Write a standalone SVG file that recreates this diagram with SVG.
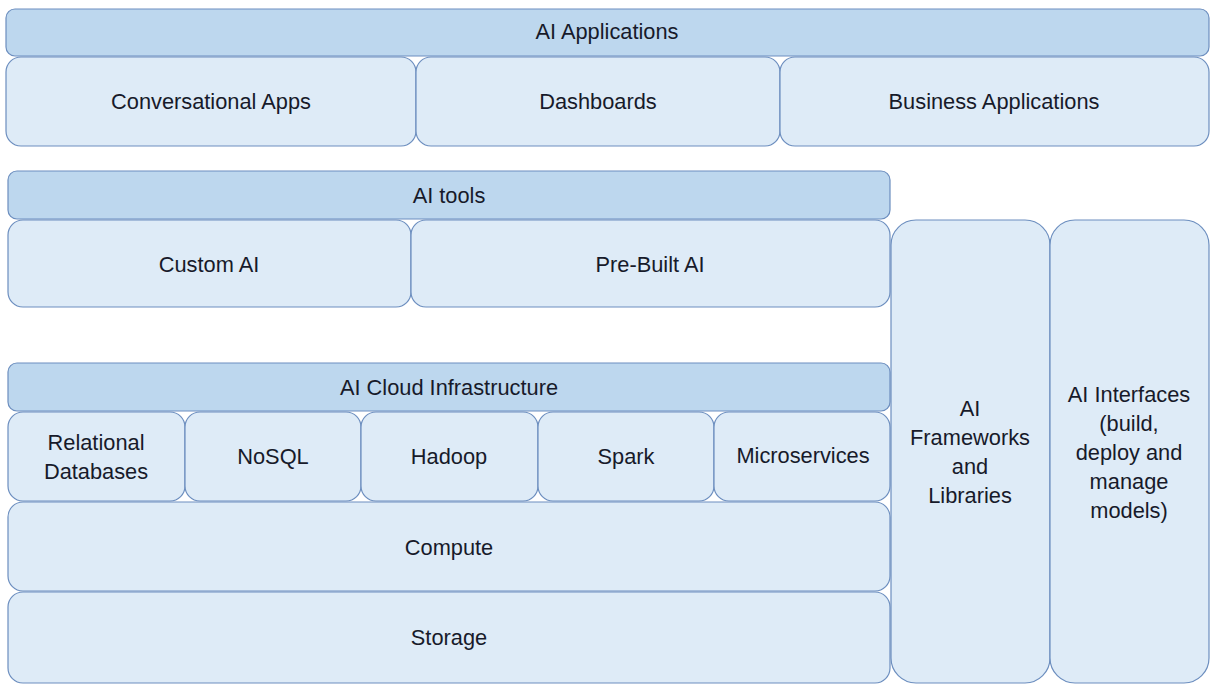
<svg xmlns="http://www.w3.org/2000/svg" width="1217" height="691" viewBox="0 0 1217 691">
<style>
.h{fill:#bdd7ee;stroke:#6c8ebf;stroke-width:1.2}
.b{fill:#deebf7;stroke:#6c8ebf;stroke-width:1.2}
text{font-family:"Liberation Sans",Arial,sans-serif;font-size:21.8px;fill:#171a2a;text-anchor:middle;dominant-baseline:central}
</style>
<rect width="1217" height="691" fill="#ffffff"/>
<g id="ai-applications"><rect class="h" x="6" y="9" width="1203" height="47" rx="9"/><text x="607" y="31">AI Applications</text></g>
<g id="conversational-apps"><rect class="b" x="6" y="57" width="410" height="89" rx="15"/><text x="211" y="101">Conversational Apps</text></g>
<g id="dashboards"><rect class="b" x="416" y="57" width="364" height="89" rx="15"/><text x="598" y="101">Dashboards</text></g>
<g id="business-applications"><rect class="b" x="780" y="57" width="429" height="89" rx="15"/><text x="994" y="101">Business Applications</text></g>
<g id="ai-tools"><rect class="h" x="8" y="171" width="882" height="48" rx="9"/><text x="449" y="195">AI tools</text></g>
<g id="custom-ai"><rect class="b" x="8" y="220" width="403" height="87" rx="15"/><text x="209" y="264">Custom AI</text></g>
<g id="pre-built-ai"><rect class="b" x="411" y="220" width="479" height="87" rx="15"/><text x="650" y="264">Pre-Built AI</text></g>
<g id="ai-frameworks"><rect class="b" x="891" y="220" width="159" height="463" rx="25"/><text x="970" y="408">AI</text><text x="970" y="437">Frameworks</text><text x="970" y="466">and</text><text x="970" y="495">Libraries</text></g>
<g id="ai-interfaces"><rect class="b" x="1050" y="220" width="159" height="463" rx="25"/><text x="1129" y="394">AI Interfaces</text><text x="1129" y="423">(build,</text><text x="1129" y="452">deploy and</text><text x="1129" y="481">manage</text><text x="1129" y="510">models)</text></g>
<g id="ai-cloud-infrastructure"><rect class="h" x="8" y="363" width="882" height="48" rx="9"/><text x="449" y="387">AI Cloud Infrastructure</text></g>
<g id="relational-databases"><rect class="b" x="8" y="412" width="177" height="89" rx="15"/><text x="96" y="442">Relational</text><text x="96" y="471">Databases</text></g>
<g id="nosql"><rect class="b" x="185" y="412" width="176" height="89" rx="15"/><text x="273" y="456">NoSQL</text></g>
<g id="hadoop"><rect class="b" x="361" y="412" width="177" height="89" rx="15"/><text x="449" y="456">Hadoop</text></g>
<g id="spark"><rect class="b" x="538" y="412" width="176" height="89" rx="15"/><text x="626" y="456">Spark</text></g>
<g id="microservices"><rect class="b" x="714" y="412" width="176" height="89" rx="15"/><text x="803" y="455">Microservices</text></g>
<g id="compute"><rect class="b" x="8" y="502" width="882" height="89" rx="15"/><text x="449" y="547">Compute</text></g>
<g id="storage"><rect class="b" x="8" y="592" width="882" height="91" rx="15"/><text x="449" y="637">Storage</text></g>
<g id="connectors"></g>
</svg>
